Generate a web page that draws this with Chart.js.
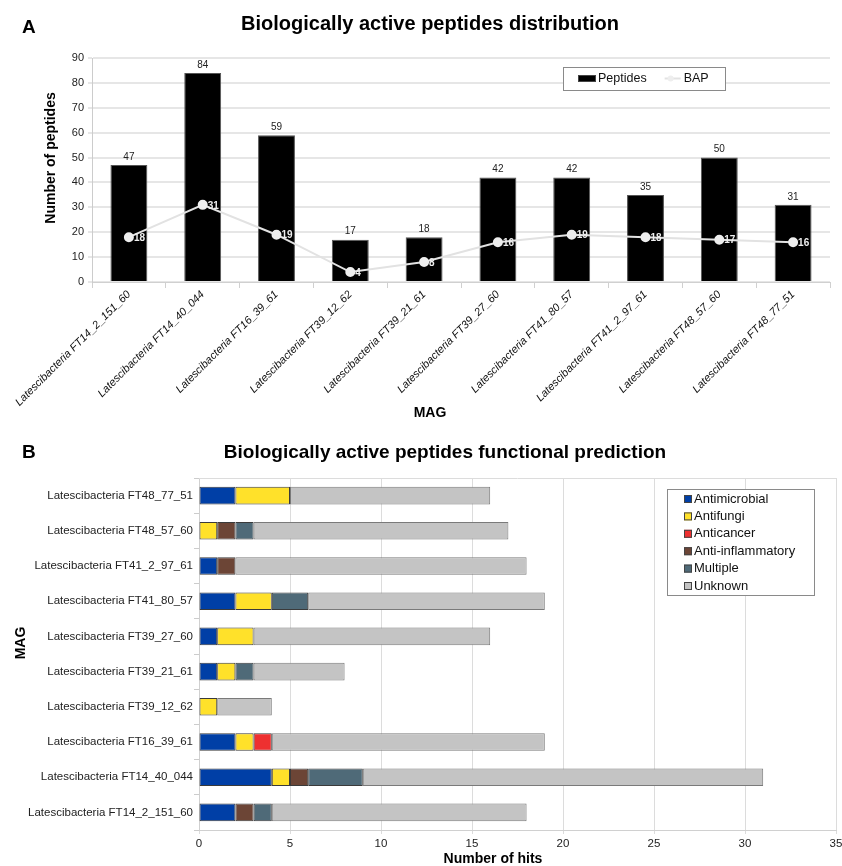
<!DOCTYPE html>
<html>
<head>
<meta charset="utf-8">
<script src="https://cdn.jsdelivr.net/npm/chart.js@4.4.1/dist/chart.umd.min.js"></script>
<style>
  body { margin: 0; background: #fff; width: 842px; height: 866px; position: relative; overflow: hidden;
         font-family: "Liberation Sans", Arial, sans-serif; color: #000; }
  .panel { position: absolute; left: 0; }
  .tag { position: absolute; left: 22px; font-weight: bold; font-size: 19px; }
  .title { position: absolute; width: 700px; text-align: center; font-weight: bold; line-height: 24px; }
  .axis { position: absolute; width: 240px; text-align: center; font-weight: bold; font-size: 14px; line-height: 18px; }
</style>
</head>
<body>
<canvas id="chartA" class="panel" style="top:0" width="842" height="430"></canvas>
<canvas id="chartB" class="panel" style="top:430px" width="842" height="436"></canvas>

<div class="tag" style="top:16px">A</div>
<div class="title" style="left:80px;top:11px;font-size:20px">Biologically active peptides distribution</div>
<div class="axis" style="left:-70px;top:149px;transform:rotate(-90deg)">Number of peptides</div>
<div class="axis" style="left:310px;top:403px">MAG</div>

<div class="tag" style="top:441px">B</div>
<div class="title" style="left:95px;top:440px;font-size:19px">Biologically active peptides functional prediction</div>
<div class="axis" style="left:-100px;top:634px;transform:rotate(-90deg)">MAG</div>
<div class="axis" style="left:373px;top:849px">Number of hits</div>

<script>
const mags = ['Latescibacteria FT14_2_151_60', 'Latescibacteria FT14_40_044', 'Latescibacteria FT16_39_61',
  'Latescibacteria FT39_12_62', 'Latescibacteria FT39_21_61', 'Latescibacteria FT39_27_60',
  'Latescibacteria FT41_80_57', 'Latescibacteria FT41_2_97_61', 'Latescibacteria FT48_57_60',
  'Latescibacteria FT48_77_51'];

// panel A
const peptides = [47, 84, 59, 17, 18, 42, 42, 35, 50, 31];
const bap = [18, 31, 19, 4, 8, 16, 19, 18, 17, 16];
const yTicksA = [0, 90, 10];   // min, max, step

// panel B, same MAG order as above (drawn bottom to top)
const antimicrobial = [2, 4, 2, 0, 1, 1, 2, 1, 0, 2];
const antifungi = [0, 1, 1, 1, 1, 2, 2, 0, 1, 3];
const anticancer = [0, 0, 1, 0, 0, 0, 0, 0, 0, 0];
const antiInflammatory = [1, 1, 0, 0, 0, 0, 0, 1, 1, 0];
const multiple = [1, 3, 0, 0, 1, 0, 2, 0, 1, 0];
const unknown = [14, 22, 15, 3, 5, 13, 13, 16, 14, 11];
const xTicksB = [0, 35, 5];

const FONT = '"Liberation Sans", Arial, sans-serif';
Chart.defaults.font.family = FONT;
Chart.defaults.color = '#222';

// numbers on bars and next to BAP points
const valueLabels = {
  id: 'valueLabels',
  afterDatasetsDraw(chart) {
    const ctx = chart.ctx;
    ctx.save();
    ctx.font = '10px ' + FONT;
    ctx.fillStyle = '#222';
    ctx.textAlign = 'center';
    ctx.textBaseline = 'bottom';
    chart.getDatasetMeta(0).data.forEach((bar, i) => {
      ctx.fillText(peptides[i], bar.x, bar.y - 3);
    });
    ctx.fillStyle = '#eeeeee';
    ctx.textAlign = 'left';
    ctx.textBaseline = 'middle';
    ctx.font = 'bold 10px ' + FONT;
    chart.getDatasetMeta(1).data.forEach((pt, i) => {
      ctx.fillText(bap[i], pt.x + 5, pt.y + 1);
    });
    ctx.restore();
  }
};

// legend in a framed box
const boxLegend = {
  id: 'boxLegend',
  afterDraw(chart, args, o) {
    const ctx = chart.ctx;
    ctx.save();
    ctx.fillStyle = '#fff';
    ctx.fillRect(o.x, o.y, o.w, o.h);
    ctx.strokeStyle = '#8a8a8a';
    ctx.lineWidth = 1;
    ctx.strokeRect(o.x + 0.5, o.y + 0.5, o.w, o.h);
    ctx.font = o.size + 'px ' + FONT;
    ctx.textBaseline = 'middle';
    let x = o.x + o.padX, y = o.y + o.padY;
    chart.data.datasets.forEach(ds => {
      if (ds.type === 'line') {
        ctx.strokeStyle = ds.borderColor;
        ctx.lineWidth = 2;
        ctx.beginPath(); ctx.moveTo(x, y); ctx.lineTo(x + 16, y); ctx.stroke();
        ctx.fillStyle = ds.pointBackgroundColor;
        ctx.beginPath(); ctx.arc(x + 6, y, 3, 0, Math.PI * 2); ctx.fill();
        x += 19;
      } else {
        ctx.fillStyle = ds.backgroundColor;
        ctx.fillRect(x, y - o.boxH / 2, o.boxW, o.boxH);
        ctx.strokeStyle = '#444';
        ctx.lineWidth = 1;
        ctx.strokeRect(x + 0.5, y - o.boxH / 2 + 0.5, o.boxW - 1, o.boxH - 1);
        x += o.boxW + 2;
      }
      ctx.fillStyle = '#111';
      ctx.fillText(ds.label, x, y);
      if (o.vertical) {
        x = o.x + o.padX;
        y += o.gap;
      } else {
        x += ctx.measureText(ds.label).width + o.gap;
      }
    });
    ctx.restore();
  }
};

// top frame line of panel B
const topFrame = {
  id: 'topFrame',
  beforeDatasetsDraw(chart) {
    const a = chart.chartArea, ctx = chart.ctx;
    ctx.save();
    ctx.strokeStyle = '#dcdcdc';
    ctx.lineWidth = 1;
    ctx.beginPath(); ctx.moveTo(a.left, a.top + 0.5); ctx.lineTo(a.right, a.top + 0.5); ctx.stroke();
    ctx.restore();
  }
};

new Chart(document.getElementById('chartA').getContext('2d'), {
  data: {
    labels: mags,
    datasets: [{
      type: 'bar',
      label: 'Peptides',
      data: peptides,
      backgroundColor: '#000',
      borderColor: '#555',
      borderWidth: 1,
      barPercentage: 0.5,
      categoryPercentage: 1,
      order: 1
    }, {
      type: 'line',
      label: 'BAP',
      data: bap,
      borderColor: '#e2e2e2',
      borderWidth: 2,
      pointBackgroundColor: '#eeeeee',
      pointBorderColor: '#eeeeee',
      pointRadius: 4,
      tension: 0,
      order: 0
    }]
  },
  options: {
    responsive: false,
    animation: false,
    layout: { padding: { left: 0, right: 12, top: 58, bottom: 0 } },
    plugins: {
      legend: { display: false },
      tooltip: { enabled: false },
      boxLegend: { x: 563, y: 67, w: 162, h: 23, padX: 15, padY: 11.5, boxW: 18, boxH: 7, gap: 18, size: 12.5 }
    },
    scales: {
      x: {
        grid: { drawOnChartArea: false, color: '#d0d0d0', tickLength: 6 },
        border: { color: '#d0d0d0' },
        ticks: { maxRotation: 45, minRotation: 45, autoSkip: false, padding: 0, color: '#111',
                 font: { size: 11, style: 'italic' } },
        afterFit(s) { s.height = 148; }
      },
      y: {
        min: yTicksA[0],
        max: yTicksA[1],
        ticks: { stepSize: yTicksA[2], padding: 4, color: '#222', font: { size: 11 } },
        grid: { color: '#e6e6e6', lineWidth: 2, tickLength: 4 },
        border: { color: '#cccccc' },
        afterFit(s) { s.width = 92; }
      }
    }
  },
  plugins: [valueLabels, boxLegend]
});

const segBorder = c => (c.raw ? 1 : 0);
function seg(label, data, color, edge) {
  return { label, data, backgroundColor: color, borderColor: edge, borderWidth: segBorder,
           borderSkipped: false, barPercentage: 0.5, categoryPercentage: 1 };
}

new Chart(document.getElementById('chartB').getContext('2d'), {
  type: 'bar',
  data: {
    labels: mags,
    datasets: [
      seg('Antimicrobial', antimicrobial, '#003fa6', '#3a3a3a'),
      seg('Antifungi', antifungi, '#ffe12a', '#3a3a3a'),
      seg('Anticancer', anticancer, '#ee3030', '#3a3a3a'),
      seg('Anti-inflammatory', antiInflammatory, '#6c4536', '#3a3a3a'),
      seg('Multiple', multiple, '#4f6a78', '#3a3a3a'),
      seg('Unknown', unknown, '#c4c4c4', '#7a7a7a')
    ]
  },
  options: {
    indexAxis: 'y',
    responsive: false,
    animation: false,
    layout: { padding: { left: 0, right: 6, top: 48, bottom: 0 } },
    plugins: {
      legend: { display: false },
      tooltip: { enabled: false },
      boxLegend: { x: 667, y: 59, w: 147, h: 106, padX: 17, padY: 10, boxW: 8, boxH: 8, gap: 17.4, size: 13, vertical: true }
    },
    scales: {
      x: {
        stacked: true,
        min: xTicksB[0],
        max: xTicksB[1],
        ticks: { stepSize: xTicksB[2], padding: 3, color: '#222', font: { size: 11.5 } },
        grid: { color: '#dcdcdc', tickLength: 4 },
        border: { color: '#d0d0d0' },
        afterFit(s) { s.height = 36; s.paddingRight = 0; }
      },
      y: {
        stacked: true,
        reverse: true,
        grid: { drawOnChartArea: false, color: '#cccccc', tickLength: 5 },
        border: { color: '#d0d0d0' },
        ticks: { padding: 1, color: '#222', font: { size: 11.5 } },
        afterFit(s) { s.width = 199; }
      }
    }
  },
  plugins: [topFrame, boxLegend]
});
</script>
</body>
</html>
